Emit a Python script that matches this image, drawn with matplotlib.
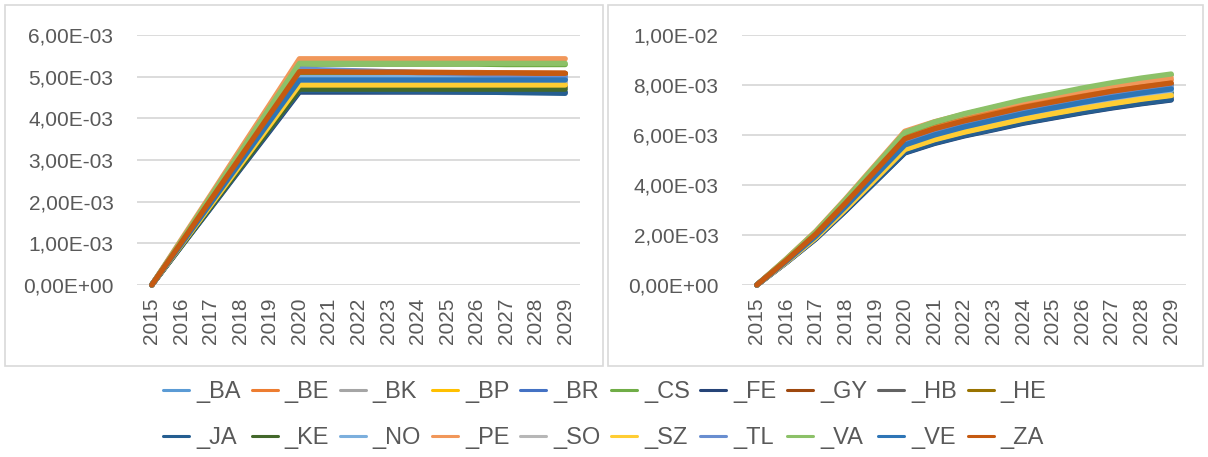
import numpy as np
import matplotlib
matplotlib.use('Agg')
import matplotlib.pyplot as plt
from matplotlib.ticker import FuncFormatter, MultipleLocator
from matplotlib.patches import Rectangle

plt.rcParams['font.family'] = ['Liberation Sans Narrow', 'Liberation Sans', 'DejaVu Sans']

years = list(range(2015, 2030))
names = ['_BA', '_BE', '_BK', '_BP', '_BR', '_CS', '_FE', '_GY', '_HB', '_HE',
         '_JA', '_KE', '_NO', '_PE', '_SO', '_SZ', '_TL', '_VA', '_VE', '_ZA']
colors = ['#5B9BD5', '#ED7D31', '#A5A5A5', '#FFC000', '#4472C4', '#70AD47',
          '#264478', '#9E480E', '#636363', '#997300', '#255E91', '#43682B',
          '#7CAFDD', '#F1975A', '#B7B7B7', '#FFCD33', '#698ED0', '#8CC168',
          '#2E75B6', '#C55A11']

# values in units of 1e-3
left_vals = {
    '_BA': [0, .99, 1.98, 2.97, 3.96, 4.95, 4.95, 4.95, 4.95, 4.95, 4.95, 4.95, 4.95, 4.95, 4.95],
    '_BE': [0, 1.03, 2.06, 3.09, 4.12, 5.15, 5.14, 5.13, 5.12, 5.11, 5.10, 5.10, 5.09, 5.09, 5.08],
    '_BK': [0, .97, 1.94, 2.91, 3.88, 4.85, 4.85, 4.85, 4.85, 4.85, 4.85, 4.85, 4.85, 4.85, 4.85],
    '_BP': [0, .96, 1.91, 2.87, 3.82, 4.78, 4.78, 4.78, 4.78, 4.78, 4.78, 4.78, 4.78, 4.78, 4.78],
    '_BR': [0, .99, 1.97, 2.96, 3.94, 4.93, 4.93, 4.93, 4.93, 4.93, 4.93, 4.93, 4.93, 4.93, 4.93],
    '_CS': [0, 1.06, 2.12, 3.18, 4.24, 5.30, 5.30, 5.30, 5.30, 5.30, 5.30, 5.30, 5.29, 5.29, 5.29],
    '_FE': [0, .93, 1.85, 2.78, 3.70, 4.63, 4.63, 4.63, 4.63, 4.63, 4.63, 4.63, 4.63, 4.63, 4.63],
    '_GY': [0, 1.02, 2.03, 3.05, 4.06, 5.08, 5.08, 5.08, 5.08, 5.08, 5.08, 5.08, 5.08, 5.08, 5.08],
    '_HB': [0, .95, 1.90, 2.85, 3.80, 4.75, 4.75, 4.75, 4.75, 4.75, 4.75, 4.75, 4.75, 4.75, 4.75],
    '_HE': [0, 1.01, 2.02, 3.03, 4.04, 5.05, 5.05, 5.05, 5.05, 5.05, 5.05, 5.05, 5.05, 5.05, 5.05],
    '_JA': [0, .93, 1.86, 2.80, 3.73, 4.66, 4.66, 4.66, 4.65, 4.65, 4.64, 4.63, 4.62, 4.61, 4.60],
    '_KE': [0, .94, 1.88, 2.82, 3.76, 4.70, 4.70, 4.70, 4.70, 4.70, 4.70, 4.70, 4.70, 4.70, 4.70],
    '_NO': [0, 1.00, 1.99, 2.99, 3.98, 4.98, 4.98, 4.98, 4.98, 4.98, 4.98, 4.98, 4.98, 4.98, 4.98],
    '_PE': [0, 1.09, 2.17, 3.26, 4.34, 5.43, 5.43, 5.43, 5.43, 5.43, 5.43, 5.43, 5.43, 5.43, 5.43],
    '_SO': [0, .98, 1.95, 2.93, 3.90, 4.88, 4.88, 4.88, 4.88, 4.88, 4.88, 4.88, 4.88, 4.88, 4.88],
    '_SZ': [0, .96, 1.92, 2.88, 3.84, 4.80, 4.80, 4.80, 4.80, 4.80, 4.80, 4.80, 4.80, 4.80, 4.80],
    '_TL': [0, 1.04, 2.07, 3.11, 4.14, 5.18, 5.16, 5.14, 5.12, 5.10, 5.08, 5.06, 5.04, 5.02, 5.00],
    '_VA': [0, 1.06, 2.13, 3.19, 4.26, 5.32, 5.32, 5.32, 5.32, 5.32, 5.32, 5.32, 5.32, 5.32, 5.32],
    '_VE': [0, .98, 1.97, 2.95, 3.94, 4.92, 4.92, 4.92, 4.92, 4.92, 4.92, 4.92, 4.92, 4.92, 4.92],
    '_ZA': [0, 1.02, 2.05, 3.07, 4.10, 5.12, 5.12, 5.11, 5.11, 5.10, 5.10, 5.09, 5.09, 5.08, 5.08],
}

right_vals = {
    '_BA': [0, .96, 1.98, 3.16, 4.41, 5.65, 6.05, 6.36, 6.63, 6.90, 7.12, 7.34, 7.55, 7.72, 7.88],
    '_BE': [0, 1.01, 2.08, 3.33, 4.64, 5.95, 6.36, 6.67, 6.94, 7.21, 7.44, 7.66, 7.86, 8.04, 8.20],
    '_BK': [0, .93, 1.91, 3.05, 4.25, 5.45, 5.84, 6.14, 6.40, 6.67, 6.88, 7.10, 7.29, 7.47, 7.62],
    '_BP': [0, .92, 1.89, 3.02, 4.21, 5.40, 5.79, 6.09, 6.35, 6.60, 6.82, 7.03, 7.23, 7.40, 7.55],
    '_BR': [0, .96, 1.97, 3.15, 4.38, 5.62, 6.02, 6.33, 6.60, 6.87, 7.09, 7.31, 7.52, 7.69, 7.85],
    '_CS': [0, 1.03, 2.13, 3.40, 4.74, 6.08, 6.50, 6.82, 7.10, 7.38, 7.61, 7.84, 8.05, 8.24, 8.40],
    '_FE': [0, .90, 1.85, 2.96, 4.12, 5.28, 5.66, 5.96, 6.21, 6.47, 6.68, 6.89, 7.08, 7.25, 7.40],
    '_GY': [0, .99, 2.04, 3.26, 4.54, 5.82, 6.22, 6.53, 6.80, 7.07, 7.29, 7.51, 7.72, 7.89, 8.05],
    '_HB': [0, .91, 1.87, 3.00, 4.17, 5.35, 5.73, 6.03, 6.29, 6.54, 6.76, 6.97, 7.16, 7.33, 7.48],
    '_HE': [0, .98, 2.02, 3.24, 4.51, 5.78, 6.18, 6.49, 6.76, 7.02, 7.25, 7.47, 7.67, 7.84, 8.00],
    '_JA': [0, .90, 1.86, 2.97, 4.13, 5.30, 5.68, 5.98, 6.23, 6.49, 6.70, 6.91, 7.10, 7.27, 7.42],
    '_KE': [0, .94, 1.93, 3.08, 4.29, 5.50, 5.90, 6.20, 6.47, 6.73, 6.95, 7.17, 7.37, 7.55, 7.70],
    '_NO': [0, .94, 1.94, 3.11, 4.33, 5.55, 5.95, 6.26, 6.53, 6.80, 7.02, 7.24, 7.45, 7.62, 7.78],
    '_PE': [0, 1.05, 2.16, 3.45, 4.80, 6.15, 6.53, 6.83, 7.09, 7.34, 7.56, 7.77, 7.96, 8.13, 8.28],
    '_SO': [0, .92, 1.90, 3.05, 4.24, 5.44, 5.83, 6.13, 6.39, 6.65, 6.87, 7.08, 7.27, 7.45, 7.60],
    '_SZ': [0, .92, 1.90, 3.04, 4.23, 5.42, 5.81, 6.11, 6.37, 6.63, 6.85, 7.06, 7.25, 7.43, 7.58],
    '_TL': [0, .98, 2.01, 3.22, 4.49, 5.75, 6.15, 6.46, 6.73, 7.00, 7.22, 7.44, 7.65, 7.82, 7.98],
    '_VA': [0, 1.04, 2.14, 3.42, 4.76, 6.10, 6.52, 6.85, 7.13, 7.41, 7.64, 7.88, 8.09, 8.28, 8.44],
    '_VE': [0, .95, 1.96, 3.14, 4.37, 5.60, 6.00, 6.32, 6.59, 6.85, 7.08, 7.30, 7.50, 7.68, 7.84],
    '_ZA': [0, .99, 2.05, 3.28, 4.56, 5.85, 6.25, 6.56, 6.83, 7.10, 7.32, 7.54, 7.75, 7.92, 8.08],
}

W, H = 1208, 457
fig = plt.figure(figsize=(W / 100, H / 100), dpi=100)

def px(x0, y0, x1, y1):
    return [x0 / W, 1 - y1 / H, (x1 - x0) / W, (y1 - y0) / H]

# panel borders
for (x0, x1) in [(5, 603), (608, 1203)]:
    fig.add_artist(Rectangle((x0 / W, 1 - 366 / H), (x1 - x0) / W, 361 / H,
                             transform=fig.transFigure, fill=False,
                             edgecolor='#D9D9D9', lw=1.2))

def sci(v, pos):
    return f"{v:.2E}".replace('.', ',')

def setup(ax, top, step):
    ax.set_xlim(2014.5, 2029.5)
    ax.set_ylim(0, top)
    ax.yaxis.set_major_locator(MultipleLocator(step))
    ax.yaxis.set_major_formatter(FuncFormatter(sci))
    ax.set_xticks(years)
    ax.set_xticklabels([str(y) for y in years], rotation=90)
    ax.grid(axis='y', color='#D9D9D9', lw=1.3)
    ax.set_axisbelow(True)
    for s in ax.spines.values():
        s.set_visible(False)
    ax.tick_params(axis='both', length=0, labelcolor='#595959', labelsize=15)
    ax.tick_params(axis='y', pad=17)
    ax.tick_params(axis='x', pad=9)

ax1 = fig.add_axes(px(137, 35, 580, 285))
ax2 = fig.add_axes(px(742, 35, 1186, 285))

lines = []
for n, c in zip(names, colors):
    ln, = ax1.plot(years, np.array(left_vals[n]) * 1e-3, color=c, lw=3.8,
                   solid_capstyle='round', solid_joinstyle='round', clip_on=False, label=n)
    ax2.plot(years, np.array(right_vals[n]) * 1e-3, color=c, lw=3.8,
             solid_capstyle='round', solid_joinstyle='round', clip_on=False)
    lines.append(ln)

setup(ax1, 6e-3, 1e-3)
setup(ax2, 1e-2, 2e-3)

# legend fills column-wise, so interleave to get row order
order = [i + r * 10 for i in range(10) for r in range(2)]
leg = fig.legend(handles=[lines[i] for i in order], labels=[names[i] for i in order],
                 ncol=10, loc='center',
                 bbox_to_anchor=(605 / W, 1 - 415 / H), frameon=False,
                 fontsize=17, handlelength=1.1, handletextpad=0.3,
                 columnspacing=0.45, labelspacing=1.0)
for t in leg.get_texts():
    t.set_color('#595959')
for h in leg.get_lines():
    h.set_linewidth(2.2)

fig.savefig('out.png', dpi=100)
